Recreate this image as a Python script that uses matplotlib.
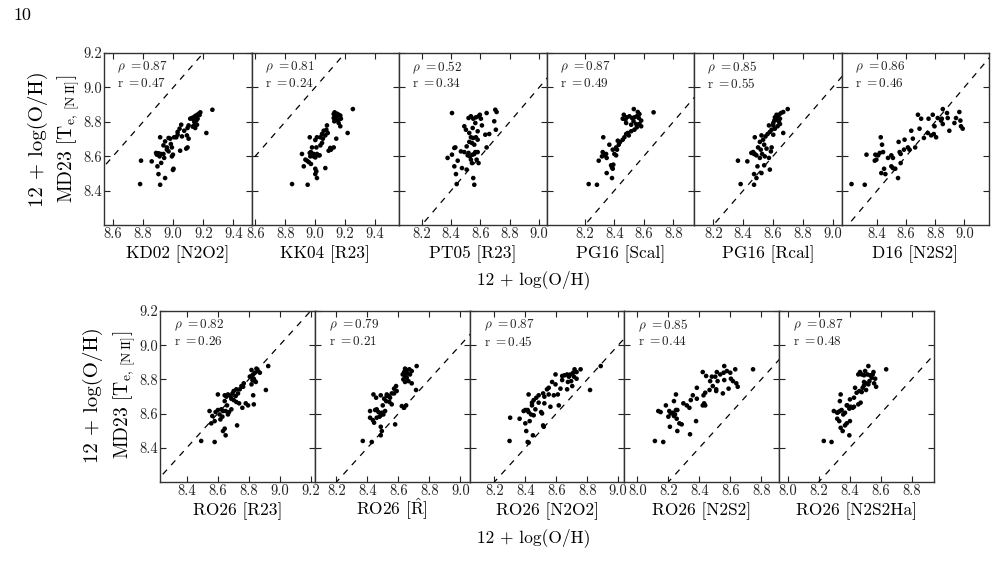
import matplotlib
matplotlib.use("Agg")
from matplotlib import pyplot as plt

plt.rcParams["font.family"] = "cmr10"
plt.rcParams["mathtext.fontset"] = "cm"
plt.rcParams["axes.unicode_minus"] = False
plt.rcParams["axes.formatter.use_mathtext"] = True

# ---- data (12+log(O/H) strong-line vs MD23 Te) ----
kd02_x = [9.26, 9.18, 9.17, 9.158, 9.146, 9.135, 9.124, 9.113, 9.162, 9.153, 9.14, 9.158, 9.14, 9.129,
          9.102, 9.095, 9.053, 9.073, 9.042, 9.029, 9.02, 9.006, 9.091, 9.102, 8.98, 8.969, 8.946, 8.913,
          8.935, 8.958, 8.984, 8.991, 9.046, 9.086, 9.095, 9.22, 8.886, 8.902, 8.917, 8.891, 8.909, 8.94,
          8.998, 8.991, 8.857, 8.786, 8.895, 8.92, 8.902, 8.946, 9.002, 8.998, 8.78, 8.913, 9.029, 9.058,
          8.969, 8.935, 8.958, 9.146, 9.175, 9.135]
kd02_y = [8.87, 8.855, 8.847, 8.84, 8.834, 8.826, 8.822, 8.818, 8.818, 8.807, 8.799, 8.783, 8.779, 8.772,
          8.779, 8.764, 8.783, 8.748, 8.76, 8.741, 8.71, 8.71, 8.721, 8.702, 8.702, 8.706, 8.686, 8.71,
          8.663, 8.651, 8.671, 8.651, 8.632, 8.644, 8.651, 8.735, 8.619, 8.617, 8.613, 8.609, 8.599, 8.59,
          8.609, 8.599, 8.57, 8.574, 8.541, 8.561, 8.496, 8.473, 8.527, 8.52, 8.438, 8.434, 8.725, 8.715,
          8.628, 8.613, 8.638, 8.764, 8.84, 8.812]

kk04_x = [9.252, 9.13, 9.146, 9.157, 9.168, 9.135, 9.15, 9.124, 9.164, 9.172, 9.141, 9.128, 9.157, 9.168,
          9.217, 9.079, 9.075, 9.057, 9.084, 9.068, 9.046, 9.035, 9.012, 8.964, 9.001, 9.052, 9.141, 9.046,
          9.035, 9.008, 9.124, 9.106, 9.09, 8.979, 8.972, 8.964, 8.99, 9.012, 9.024, 9.001, 9.03, 8.912,
          8.935, 8.946, 8.957, 8.972, 8.924, 9.001, 9.008, 9.068, 9.001, 9.012, 8.846, 8.95, 8.99, 8.968,
          9.124, 9.152, 9.101]
kk04_y = [8.874, 8.855, 8.847, 8.841, 8.836, 8.832, 8.826, 8.822, 8.822, 8.818, 8.812, 8.803, 8.793, 8.774,
          8.735, 8.779, 8.754, 8.748, 8.735, 8.721, 8.729, 8.71, 8.71, 8.71, 8.694, 8.702, 8.702, 8.677,
          8.663, 8.651, 8.651, 8.638, 8.632, 8.651, 8.624, 8.619, 8.613, 8.613, 8.605, 8.593, 8.605, 8.613,
          8.58, 8.574, 8.566, 8.555, 8.541, 8.527, 8.512, 8.531, 8.496, 8.473, 8.438, 8.434, 8.599, 8.599,
          8.845, 8.807, 8.648]

pt05_x = [8.406, 8.701, 8.71, 8.642, 8.519, 8.535, 8.551, 8.569, 8.587, 8.596, 8.603, 8.565, 8.49, 8.501,
          8.547, 8.581, 8.61, 8.694, 8.705, 8.66, 8.633, 8.524, 8.535, 8.551, 8.569, 8.581, 8.524, 8.542,
          8.558, 8.506, 8.642, 8.429, 8.422, 8.467, 8.49, 8.519, 8.513, 8.528, 8.547, 8.558, 8.565, 8.581,
          8.535, 8.587, 8.445, 8.406, 8.376, 8.422, 8.474, 8.506, 8.433, 8.551, 8.558, 8.438, 8.574, 8.542]
pt05_y = [8.851, 8.87, 8.857, 8.851, 8.822, 8.832, 8.818, 8.826, 8.832, 8.841, 8.818, 8.793, 8.774, 8.754,
          8.764, 8.745, 8.779, 8.803, 8.754, 8.729, 8.725, 8.735, 8.71, 8.706, 8.71, 8.696, 8.683, 8.677,
          8.667, 8.657, 8.651, 8.651, 8.648, 8.628, 8.624, 8.619, 8.605, 8.599, 8.609, 8.613, 8.624, 8.624,
          8.58, 8.56, 8.574, 8.609, 8.59, 8.541, 8.531, 8.522, 8.496, 8.473, 8.434, 8.438, 8.58, 8.56]

pg16s_x = [8.666, 8.532, 8.559, 8.57, 8.552, 8.536, 8.52, 8.502, 8.484, 8.464, 8.457, 8.475, 8.53, 8.566,
           8.582, 8.57, 8.582, 8.552, 8.536, 8.514, 8.491, 8.48, 8.498, 8.468, 8.457, 8.439, 8.423, 8.43,
           8.412, 8.389, 8.4, 8.412, 8.366, 8.325, 8.344, 8.332, 8.321, 8.316, 8.348, 8.393, 8.378, 8.384,
           8.389, 8.294, 8.348, 8.384, 8.226, 8.282, 8.48, 8.548, 8.514, 8.418]
pg16s_y = [8.855, 8.874, 8.857, 8.845, 8.832, 8.826, 8.822, 8.832, 8.826, 8.841, 8.818, 8.812, 8.803, 8.822,
           8.807, 8.787, 8.774, 8.768, 8.754, 8.745, 8.735, 8.729, 8.721, 8.71, 8.696, 8.683, 8.69, 8.667,
           8.651, 8.638, 8.613, 8.605, 8.667, 8.71, 8.613, 8.605, 8.624, 8.599, 8.59, 8.551, 8.547, 8.535,
           8.527, 8.574, 8.502, 8.473, 8.438, 8.434, 8.793, 8.787, 8.783, 8.638]

pg16r_x = [8.699, 8.669, 8.654, 8.64, 8.624, 8.613, 8.631, 8.647, 8.618, 8.609, 8.64, 8.647, 8.631, 8.602,
           8.613, 8.591, 8.573, 8.579, 8.564, 8.602, 8.669, 8.55, 8.523, 8.478, 8.534, 8.512, 8.541, 8.5,
           8.518, 8.557, 8.591, 8.586, 8.467, 8.455, 8.478, 8.489, 8.473, 8.527, 8.545, 8.573, 8.512, 8.365,
           8.428, 8.496, 8.541, 8.523, 8.473, 8.579, 8.489, 8.383, 8.473, 8.624, 8.602]
pg16r_y = [8.874, 8.857, 8.851, 8.841, 8.832, 8.826, 8.822, 8.818, 8.812, 8.807, 8.799, 8.787, 8.774, 8.779,
           8.76, 8.754, 8.779, 8.741, 8.729, 8.725, 8.735, 8.715, 8.721, 8.71, 8.696, 8.683, 8.667, 8.651,
           8.638, 8.644, 8.651, 8.628, 8.624, 8.619, 8.613, 8.605, 8.613, 8.613, 8.599, 8.59, 8.59, 8.574,
           8.57, 8.541, 8.547, 8.502, 8.496, 8.522, 8.473, 8.438, 8.434, 8.841, 8.793]

d16_x = [8.852, 8.966, 8.881, 8.783, 8.681, 8.817, 8.886, 8.845, 8.943, 8.754, 8.703, 8.973, 8.932, 8.852,
         8.795, 8.977, 8.989, 8.897, 8.692, 8.635, 8.749, 8.79, 8.806, 8.722, 8.646, 8.662, 8.612, 8.548,
         8.585, 8.623, 8.425, 8.434, 8.441, 8.407, 8.388, 8.327, 8.498, 8.509, 8.555, 8.562, 8.384, 8.395,
         8.418, 8.475, 8.562, 8.498, 8.509, 8.525, 8.448, 8.429, 8.457, 8.544, 8.224, 8.315, 8.84, 8.772,
         8.589]
d16_y = [8.874, 8.857, 8.851, 8.841, 8.841, 8.822, 8.822, 8.818, 8.822, 8.818, 8.818, 8.807, 8.793, 8.787,
         8.774, 8.774, 8.76, 8.748, 8.76, 8.748, 8.735, 8.729, 8.71, 8.706, 8.702, 8.651, 8.651, 8.683,
         8.638, 8.638, 8.71, 8.667, 8.624, 8.605, 8.609, 8.609, 8.605, 8.59, 8.624, 8.613, 8.574, 8.58,
         8.619, 8.59, 8.56, 8.541, 8.531, 8.527, 8.527, 8.502, 8.496, 8.473, 8.438, 8.434, 8.807, 8.721,
         8.696]

r23_x = [8.926, 8.85, 8.861, 8.872, 8.84, 8.818, 8.829, 8.818, 8.807, 8.833, 8.84, 8.824, 8.846, 8.818,
         8.768, 8.753, 8.764, 8.742, 8.703, 8.731, 8.695, 8.682, 8.666, 8.656, 8.645, 8.716, 8.688, 8.703,
         8.72, 8.738, 8.759, 8.781, 8.796, 8.829, 8.911, 8.601, 8.645, 8.66, 8.651, 8.673, 8.666, 8.634,
         8.623, 8.601, 8.586, 8.565, 8.547, 8.612, 8.617, 8.63, 8.558, 8.58, 8.645, 8.634, 8.651, 8.725,
         8.493, 8.58, 8.833, 8.688, 8.72]
r23_y = [8.878, 8.863, 8.849, 8.839, 8.839, 8.855, 8.829, 8.82, 8.816, 8.804, 8.79, 8.796, 8.785, 8.771,
         8.777, 8.761, 8.757, 8.742, 8.732, 8.718, 8.718, 8.703, 8.712, 8.699, 8.707, 8.703, 8.687, 8.679,
         8.668, 8.66, 8.634, 8.66, 8.648, 8.707, 8.738, 8.712, 8.673, 8.648, 8.615, 8.609, 8.595, 8.615,
         8.625, 8.621, 8.609, 8.586, 8.615, 8.595, 8.566, 8.582, 8.543, 8.556, 8.512, 8.498, 8.473, 8.531,
         8.44, 8.434, 8.654, 8.625, 8.742]

rhat_x = [8.718, 8.643, 8.654, 8.671, 8.686, 8.637, 8.658, 8.675, 8.628, 8.643, 8.654, 8.632, 8.686, 8.643,
          8.585, 8.572, 8.589, 8.557, 8.525, 8.536, 8.546, 8.572, 8.508, 8.521, 8.542, 8.557, 8.499, 8.439,
          8.456, 8.486, 8.46, 8.45, 8.471, 8.493, 8.514, 8.503, 8.486, 8.478, 8.46, 8.417, 8.435, 8.417,
          8.443, 8.579, 8.637, 8.65, 8.714, 8.486, 8.493, 8.486, 8.37, 8.428, 8.525, 8.622, 8.665]
rhat_y = [8.878, 8.863, 8.855, 8.859, 8.849, 8.843, 8.835, 8.829, 8.829, 8.82, 8.81, 8.8, 8.777, 8.785,
          8.761, 8.746, 8.732, 8.718, 8.712, 8.703, 8.693, 8.718, 8.687, 8.673, 8.668, 8.654, 8.648, 8.712,
          8.693, 8.707, 8.625, 8.621, 8.609, 8.605, 8.615, 8.595, 8.59, 8.582, 8.576, 8.615, 8.562, 8.576,
          8.547, 8.537, 8.634, 8.648, 8.738, 8.523, 8.498, 8.473, 8.44, 8.434, 8.703, 8.644, 8.79]

n2o2_x = [8.757, 8.718, 8.731, 8.709, 8.692, 8.67, 8.653, 8.638, 8.681, 8.714, 8.731, 8.696, 8.675, 8.703,
          8.638, 8.627, 8.595, 8.573, 8.551, 8.54, 8.515, 8.551, 8.523, 8.486, 8.471, 8.454, 8.443, 8.486,
          8.523, 8.562, 8.616, 8.584, 8.61, 8.67, 8.818, 8.887, 8.421, 8.415, 8.4, 8.389, 8.421, 8.437,
          8.454, 8.502, 8.508, 8.465, 8.363, 8.302, 8.428, 8.4, 8.406, 8.515, 8.519, 8.449, 8.298, 8.415,
          8.421, 8.443, 8.595]
n2o2_y = [8.859, 8.859, 8.843, 8.839, 8.829, 8.829, 8.824, 8.82, 8.816, 8.816, 8.804, 8.79, 8.785, 8.761,
          8.796, 8.746, 8.771, 8.785, 8.751, 8.742, 8.718, 8.712, 8.699, 8.707, 8.693, 8.679, 8.664, 8.664,
          8.66, 8.64, 8.648, 8.707, 8.712, 8.742, 8.738, 8.878, 8.712, 8.621, 8.621, 8.615, 8.609, 8.595,
          8.59, 8.609, 8.601, 8.625, 8.57, 8.576, 8.556, 8.543, 8.498, 8.531, 8.523, 8.473, 8.44, 8.434,
          8.43, 8.648, 8.829]

n2s2_x = [8.561, 8.747, 8.632, 8.578, 8.6, 8.557, 8.535, 8.513, 8.503, 8.481, 8.444, 8.422, 8.47, 8.518,
          8.561, 8.604, 8.617, 8.639, 8.648, 8.589, 8.552, 8.509, 8.509, 8.466, 8.438, 8.427, 8.431, 8.438,
          8.422, 8.384, 8.384, 8.358, 8.345, 8.336, 8.319, 8.297, 8.379, 8.34, 8.271, 8.286, 8.258, 8.21,
          8.249, 8.243, 8.228, 8.215, 8.2, 8.258, 8.236, 8.254, 8.135, 8.15, 8.249, 8.236, 8.206, 8.184,
          8.113, 8.167, 8.487]
n2s2_y = [8.878, 8.859, 8.859, 8.849, 8.839, 8.839, 8.829, 8.843, 8.816, 8.816, 8.82, 8.843, 8.79, 8.79,
          8.796, 8.804, 8.79, 8.777, 8.757, 8.746, 8.718, 8.732, 8.742, 8.738, 8.722, 8.707, 8.66, 8.648,
          8.648, 8.751, 8.687, 8.707, 8.679, 8.634, 8.648, 8.66, 8.556, 8.479, 8.543, 8.537, 8.498, 8.523,
          8.621, 8.595, 8.605, 8.601, 8.582, 8.621, 8.586, 8.57, 8.615, 8.609, 8.712, 8.673, 8.615, 8.648,
          8.44, 8.434, 8.761]

n2s2ha_x = [8.636, 8.521, 8.5, 8.467, 8.456, 8.478, 8.493, 8.515, 8.532, 8.549, 8.554, 8.543, 8.565, 8.528,
            8.506, 8.493, 8.484, 8.506, 8.478, 8.463, 8.558, 8.571, 8.435, 8.445, 8.428, 8.402, 8.385, 8.407,
            8.42, 8.398, 8.381, 8.342, 8.337, 8.37, 8.348, 8.337, 8.326, 8.32, 8.298, 8.359, 8.32, 8.333,
            8.381, 8.37, 8.402, 8.342, 8.355, 8.398, 8.233, 8.283, 8.428, 8.471, 8.456, 8.521, 8.493]
n2s2ha_y = [8.859, 8.878, 8.849, 8.843, 8.829, 8.829, 8.824, 8.829, 8.824, 8.829, 8.843, 8.81, 8.804, 8.79,
            8.777, 8.765, 8.751, 8.738, 8.726, 8.732, 8.777, 8.757, 8.751, 8.722, 8.693, 8.683, 8.648, 8.64,
            8.634, 8.629, 8.648, 8.712, 8.673, 8.605, 8.621, 8.615, 8.609, 8.605, 8.615, 8.595, 8.57, 8.556,
            8.543, 8.531, 8.556, 8.517, 8.498, 8.473, 8.44, 8.434, 8.64, 8.664, 8.654, 8.771, 8.785]

top_names = ["KD02 [N2O2]", "KK04 [R23]", "PT05 [R23]", "PG16 [Scal]", "PG16 [Rcal]", "D16 [N2S2]"]
top_rho = ["0.87", "0.81", "0.52", "0.87", "0.85", "0.86"]
top_r = ["0.47", "0.24", "0.34", "0.49", "0.55", "0.46"]
top_xlim = [(8.54, 9.52), (8.575, 9.56), (8.045, 9.05), (7.94, 8.94), (8.07, 9.06), (8.155, 9.17)]
top_xticks = [[8.6, 8.8, 9.0, 9.2, 9.4], [8.6, 8.8, 9.0, 9.2, 9.4], [8.2, 8.4, 8.6, 8.8, 9.0],
              [8.2, 8.4, 8.6, 8.8], [8.2, 8.4, 8.6, 8.8, 9.0], [8.4, 8.6, 8.8, 9.0]]
top_data = [(kd02_x, kd02_y), (kk04_x, kk04_y), (pt05_x, pt05_y),
            (pg16s_x, pg16s_y), (pg16r_x, pg16r_y), (d16_x, d16_y)]

bot_names = ["RO26 [R23]", r"RO26 [$\hat{\mathrm{R}}$]", "RO26 [N2O2]", "RO26 [N2S2]", "RO26 [N2S2Ha]"]
bot_rho = ["0.82", "0.79", "0.87", "0.85", "0.87"]
bot_r = ["0.26", "0.21", "0.45", "0.44", "0.48"]
bot_xlim = [(8.227, 9.227), (8.06, 9.06), (8.04, 9.04), (7.916, 8.916), (7.945, 8.945)]
bot_xticks = [[8.4, 8.6, 8.8, 9.0, 9.2], [8.2, 8.4, 8.6, 8.8, 9.0], [8.2, 8.4, 8.6, 8.8, 9.0],
              [8.0, 8.2, 8.4, 8.6, 8.8], [8.0, 8.2, 8.4, 8.6, 8.8]]
bot_data = [(r23_x, r23_y), (rhat_x, rhat_y), (n2o2_x, n2o2_y), (n2s2_x, n2s2_y), (n2s2ha_x, n2s2ha_y)]

yticks = [8.4, 8.6, 8.8, 9.0, 9.2]
ylim = (8.2, 9.2)

W, H = 996, 566
fig = plt.figure(figsize=(W / 100, H / 100), dpi=100)


def draw_row(left, right, top, bottom, names, rhos, rs, xlims, xticks, data):
    n = len(names)
    w = (right - left) / n
    h = bottom - top
    for i in range(n):
        ax = fig.add_axes([(left + i * w) / W, 1 - bottom / H, w / W, h / H])
        xs, ys = data[i]
        ax.plot([7.5, 10.0], [7.5, 10.0], color="k", ls=(0, (5, 5)), lw=0.9)
        ax.scatter(xs, ys, s=11, color="k", edgecolors="none", zorder=3)
        ax.set_xlim(*xlims[i])
        ax.set_ylim(*ylim)
        ax.set_xticks(xticks[i])
        ax.set_xticklabels([f"{t:.1f}" for t in xticks[i]])
        ax.set_yticks(yticks)
        if i == 0:
            ax.set_yticklabels([f"{t:.1f}" for t in yticks])
        else:
            ax.set_yticklabels([])
        ax.tick_params(direction="in", top=True, right=True, length=4, width=0.8,
                       labelsize=10.5, pad=1.5, colors="#222222")
        for sp in ax.spines.values():
            sp.set_linewidth(1.0)
            sp.set_color("#333333")
        # panel name on a common baseline (the hat must not push it down)
        ax.text(0.5, -33 / h, names[i], transform=ax.transAxes, fontsize=12.5,
                ha="center", va="baseline")
        ax.text(0.09, 0.915, r"$\rho\ =%s$" % rhos[i], transform=ax.transAxes,
                fontsize=9.5, va="center", ha="left", color="#222222")
        ax.text(0.09, 0.82, r"$\mathrm{r}\ =%s$" % rs[i], transform=ax.transAxes,
                fontsize=9.5, va="center", ha="left", color="#222222")


draw_row(104, 989, 53, 225, top_names, top_rho, top_r, top_xlim, top_xticks, top_data)
draw_row(160, 934, 311, 482, bot_names, bot_rho, bot_r, bot_xlim, bot_xticks, bot_data)

ylab1 = "12 + log(O/H)"
ylab2 = r"MD23 [T$_{\mathrm{e,\,[N\,II]}}$]"
fig.text(38 / W, 1 - 139 / H, ylab1, rotation=90, ha="center", va="center", fontsize=15)
fig.text(69 / W, 1 - 139 / H, ylab2, rotation=90, ha="center", va="center", fontsize=14)
fig.text(93 / W, 1 - 395 / H, ylab1, rotation=90, ha="center", va="center", fontsize=15)
fig.text(125 / W, 1 - 395 / H, ylab2, rotation=90, ha="center", va="center", fontsize=14)

fig.text(534 / W, 1 - 280 / H, "12 + log(O/H)", ha="center", va="center", fontsize=12.5)
fig.text(534 / W, 1 - 538 / H, "12 + log(O/H)", ha="center", va="center", fontsize=12.5)

fig.text(22 / W, 1 - 15 / H, "10", ha="center", va="center", fontsize=13)

fig.savefig("out.png", dpi=100)
